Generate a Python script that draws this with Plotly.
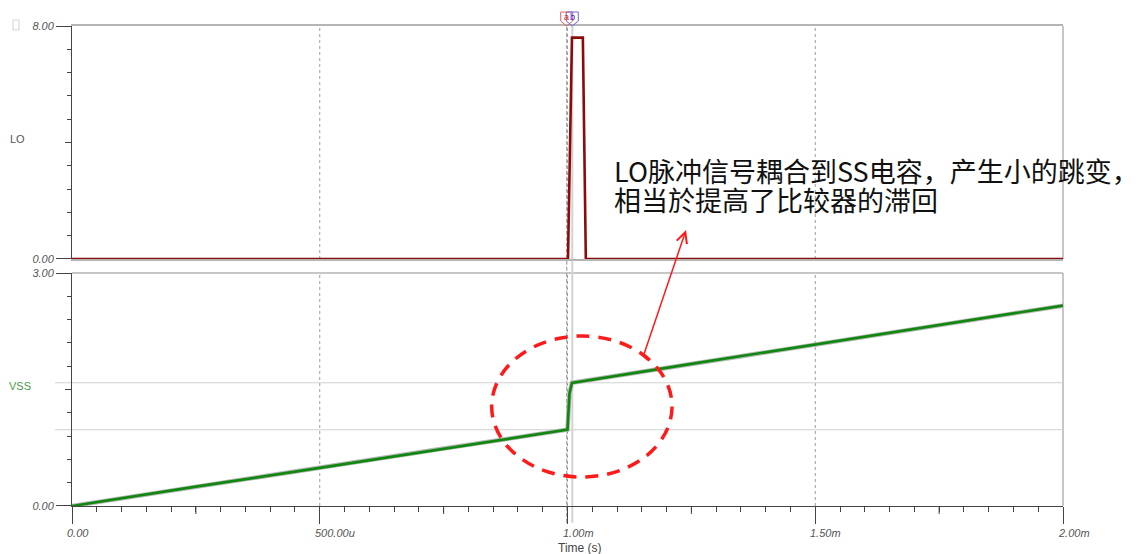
import numpy as np
import plotly.graph_objects as go

# ---- data (time in ms) ----
t_lo = [0.0, 1.001, 1.009, 1.031, 1.037, 2.0]
lo = [0.0, 0.0, 7.6, 7.6, 0.0, 0.0]

t_vss = [0.0, 0.25, 0.5, 0.75, 1.0, 1.004, 1.009, 1.25, 1.5, 1.75, 2.0]
vss = [0.0, 0.25, 0.49, 0.74, 0.983, 1.45, 1.586, 1.83, 2.08, 2.33, 2.58]

x_tick_vals = [0.0, 0.5, 1.0, 1.5, 2.0]
x_tick_text = ["0.00", "500.00u", "1.00m", "1.50m", "2.00m"]
x_mid_ticks = [0.25, 0.75, 1.25, 1.75]
grid_t = [0.5, 1.0, 1.5]

lo_range = [0, 8]
lo_tick_text = ["0.00", "8.00"]
lo_mid_tick = 4
vss_range = [0, 3]
vss_tick_text = ["0.00", "3.00"]
vss_mid_tick = 1.5

cursor_a = 0.9984
cursor_b = 1.0097

note_line1 = "LO脉冲信号耦合到SS电容，产生小的跳变，"
note_line2 = "相当於提高了比较器的滞回"

# ---- styles ----
AX = "#444444"
BORDER = "#b4b4b4"
LABEL = "#555555"
FONT = "Liberation Sans, Arial, sans-serif"
CJK = "Noto Sans CJK SC, sans-serif"
PLOT_W = 1137 - 72 - 74
PLOT_H = 554 - 26 - 48

fig = go.Figure()

fig.add_trace(go.Scatter(x=t_lo, y=lo, xaxis="x", yaxis="y", mode="lines",
                         line=dict(color="#8b0a0a", width=2.6), hoverinfo="skip",
                         showlegend=False))
fig.add_trace(go.Scatter(x=t_vss, y=vss, xaxis="x2", yaxis="y2", mode="lines",
                         line=dict(color="#b8b8b8", width=4.5), hoverinfo="skip",
                         showlegend=False))
fig.add_trace(go.Scatter(x=t_vss, y=vss, xaxis="x2", yaxis="y2", mode="lines",
                         line=dict(color="#108810", width=2.7), hoverinfo="skip",
                         showlegend=False))

top_dom = [0.5146, 1.0]
bot_dom = [0.0, 0.4854]

tickfont = dict(family=FONT, size=11, color=LABEL, style="italic")

layout = dict(
    width=1137, height=554,
    margin=dict(l=72, r=74, t=26, b=48),
    paper_bgcolor="white", plot_bgcolor="white",
    showlegend=False,
    font=dict(family=FONT),
    xaxis=dict(domain=[0, 1], anchor="y", range=[0, 2], showticklabels=False,
               ticks="", showgrid=False, zeroline=False, showline=True,
               linecolor=BORDER, linewidth=1.5, mirror=True, layer="below traces"),
    yaxis=dict(domain=top_dom, anchor="x", range=lo_range, showline=True,
               linecolor=AX, linewidth=1, ticks="outside", tickvals=lo_range,
               ticktext=lo_tick_text, ticklen=15, tickcolor=AX, tickfont=tickfont,
               showgrid=False, zeroline=False, layer="below traces",
               minor=dict(tickmode="linear", tick0=0, dtick=0.8, ticks="outside",
                          ticklen=4, tickcolor=AX, showgrid=False)),
    xaxis2=dict(domain=[0, 1], anchor="y2", range=[0, 2], tickvals=x_tick_vals,
                ticks="outside", ticklen=17, tickcolor=AX, showticklabels=False,
                showgrid=False, zeroline=False, showline=True, linecolor=AX,
                linewidth=1.2, layer="below traces",
                minor=dict(tickmode="linear", tick0=0, dtick=0.05, ticks="outside",
                           ticklen=5, tickcolor=AX, showgrid=False)),
    yaxis2=dict(domain=bot_dom, anchor="x2", range=vss_range, showline=True,
                linecolor=AX, linewidth=1, ticks="outside", tickvals=vss_range,
                ticktext=vss_tick_text, ticklen=15, tickcolor=AX, tickfont=tickfont,
                showgrid=False, zeroline=False, layer="below traces",
                minor=dict(tickmode="linear", tick0=0, dtick=0.3, ticks="outside",
                           ticklen=4, tickcolor=AX, showgrid=False)),
)
fig.update_layout(**layout)

shapes = []
# dashed vertical grid in both panels
for xr, yr in (("x", "y domain"), ("x2", "y2 domain")):
    for t in grid_t:
        shapes.append(dict(type="line", xref=xr, yref=yr, x0=t, x1=t, y0=0, y1=1,
                           line=dict(color="#9a9a9a", width=1, dash="3px,3px"),
                           layer="below"))
# medium-length ticks
for yr, v in (("y", lo_mid_tick), ("y2", vss_mid_tick)):
    shapes.append(dict(type="line", xref="paper", yref=yr, x0=-7 / PLOT_W, x1=0,
                       y0=v, y1=v, line=dict(color=AX, width=1)))
for t in x_mid_ticks:
    shapes.append(dict(type="line", xref="x2", yref="paper", x0=t, x1=t,
                       y0=0, y1=-8 / PLOT_H, line=dict(color=AX, width=1)))
# panel borders (right side, top of lower panel)
shapes.append(dict(type="line", xref="paper", yref="y domain", x0=1, x1=1, y0=0, y1=1,
                   line=dict(color=BORDER, width=1.5), layer="below"))
shapes.append(dict(type="line", xref="paper", yref="y2 domain", x0=1, x1=1, y0=0, y1=1,
                   line=dict(color=BORDER, width=1.5), layer="below"))
shapes.append(dict(type="line", xref="paper", yref="y2 domain", x0=0, x1=1, y0=1, y1=1,
                   line=dict(color=BORDER, width=1.5), layer="below"))

# cursors a / b
shapes.append(dict(type="line", xref="x", yref="paper", x0=cursor_a, x1=cursor_a,
                   y0=-0.035, y1=1.0, line=dict(color="#a8a8a8", width=1.3,
                                                   dash="4px,2px"), layer="below"))
shapes.append(dict(type="line", xref="x", yref="paper", x0=cursor_b, x1=cursor_b,
                   y0=-0.035, y1=1.0, line=dict(color="#d2d2d2", width=2),
                   layer="below"))
for tc in (cursor_a, cursor_b):
    level = float(np.interp(tc, t_vss, vss))
    shapes.append(dict(type="line", xref="paper", yref="y2", x0=-0.017, x1=1,
                       y0=level, y1=level, line=dict(color="#d0d0d0", width=1),
                       layer="below"))
# cursor flags above the plot
for tc, col in ((cursor_a, "#e06060"), (cursor_b, "#6a6ae0")):
    shapes.append(dict(type="path", xref="x", yref="paper",
                       xsizemode="pixel", xanchor=tc, ysizemode="pixel", yanchor=1.0,
                       path="M -6 14 L 6 14 L 6 5 L 0 0 L -6 5 Z",
                       line=dict(color=col, width=1)))

# dashed red ellipse around the step
shapes.append(dict(type="circle", xref="x2", yref="y2", x0=0.847, x1=1.211,
                   y0=0.373, y1=2.189,
                   line=dict(color="#ff1a1a", width=3.5, dash="13px,9px")))
# arrow tail bar
shapes.append(dict(type="line", xref="paper", yref="paper", x0=0.5732, y0=0.3188,
                   x1=0.5812, y1=0.3042, line=dict(color="#ff1a1a", width=2)))
# small box at top-left corner
shapes.append(dict(type="rect", xref="paper", yref="paper", x0=-0.0595, x1=-0.0535,
                   y0=0.9917, y1=1.0125, line=dict(color="#d0d0d0", width=1)))
fig.update_layout(shapes=shapes)

annotations = []
for v, txt in zip(x_tick_vals, x_tick_text):
    annotations.append(dict(x=v, xref="x2", y=-0.0563, yref="paper", text=txt,
                            showarrow=False, xanchor="left", yanchor="middle",
                            xshift=-7, font=tickfont))
annotations.append(dict(x=0.5129, xref="paper", y=-0.087, yref="paper",
                        text="Time (s)", showarrow=False, xanchor="center",
                        yanchor="middle", font=dict(family=FONT, size=12, color="#444")))
annotations.append(dict(x=-0.0545, xref="paper", y=0.7646, yref="paper", text="LO",
                        showarrow=False, xanchor="center", yanchor="middle",
                        font=dict(family=FONT, size=11, color=LABEL)))
annotations.append(dict(x=-0.052, xref="paper", y=0.25, yref="paper", text="VSS",
                        showarrow=False, xanchor="center", yanchor="middle",
                        font=dict(family=FONT, size=11, color="#4a9a4a")))
annotations.append(dict(x=cursor_a, xref="x", y=1.0, yref="paper", yshift=9,
                        text="a", showarrow=False, xanchor="center", yanchor="middle",
                        font=dict(family=FONT, size=9, color="#e02020")))
annotations.append(dict(x=cursor_b, xref="x", y=1.0, yref="paper", yshift=9,
                        text="b", showarrow=False, xanchor="center", yanchor="middle",
                        font=dict(family=FONT, size=9, color="#2020e0")))
# explanatory note with arrow
annotations.append(dict(x=0.545, xref="paper", y=0.70, yref="paper", text=note_line1,
                        showarrow=False, xanchor="left", yanchor="middle",
                        font=dict(family=CJK, size=27, color="#111111")))
annotations.append(dict(x=0.545, xref="paper", y=0.638, yref="paper", text=note_line2,
                        showarrow=False, xanchor="left", yanchor="middle",
                        font=dict(family=CJK, size=27, color="#111111")))
annotations.append(dict(x=0.6196, xref="paper", y=0.575, yref="paper", text="",
                        showarrow=True, ax=-43, ay=127, arrowhead=5, arrowsize=1.4,
                        arrowwidth=1.5, arrowcolor="#ff1a1a"))
fig.update_layout(annotations=annotations)

fig.write_html("out.html")
